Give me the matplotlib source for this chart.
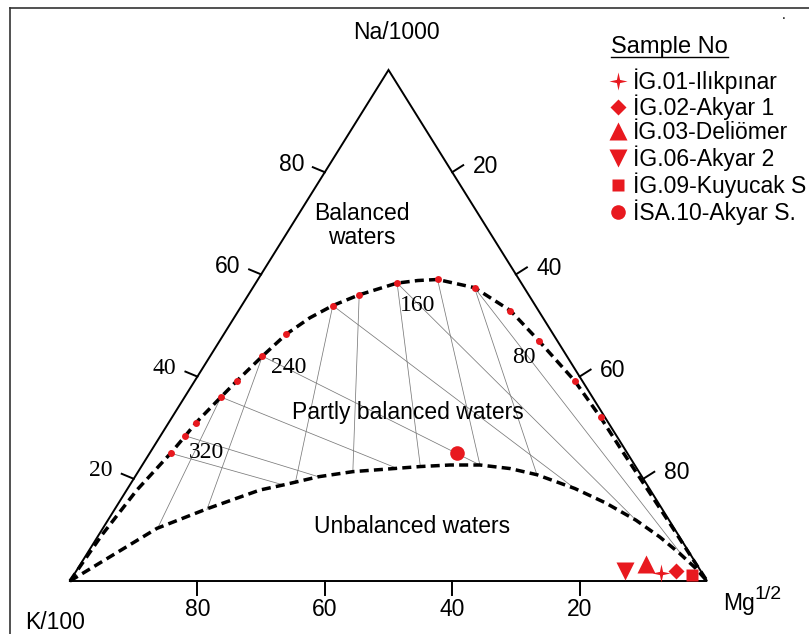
import numpy as np
import matplotlib.pyplot as plt
from matplotlib.lines import Line2D
from matplotlib.path import Path

plt.rcParams['font.family'] = ['Liberation Sans', 'DejaVu Sans']

# Giggenbach Na-K-Mg diagram. Values are % of (Na/1000 + K/100 + Mg^1/2), K = 100 - Na - Mg
# full equilibrium temperature points (20 C steps)
dot_na = [25.0, 28.4, 31.0, 36.0, 39.1, 44.0, 48.3, 53.9, 56.0, 58.3, 59.0, 57.4, 52.9, 47.0, 39.2, 32.0]
dot_mg = [3.3, 3.9, 4.3, 5.7, 6.6, 8.2, 9.8, 14.3, 17.4, 22.2, 28.2, 34.8, 42.7, 50.1, 59.6, 67.3]

# full equilibrium curve
feq_na = [0, 9.0, 17.8, 25.0, 28.4, 31.0, 36.0, 39.1, 44.0, 48.3, 51.5, 53.9, 56.0, 58.3, 58.8,
          59.0, 57.4, 52.9, 47.0, 39.2, 32.0, 25.6, 18.4, 11.2, 4.5, 0]
feq_mg = [0, 0.5, 1.6, 3.3, 3.9, 4.3, 5.7, 6.6, 8.2, 9.8, 11.9, 14.3, 17.4, 22.2, 25.2,
          28.2, 34.8, 42.7, 50.1, 59.6, 67.3, 73.8, 81.2, 88.6, 95.4, 100]

# partial equilibrium curve
peq_na = [0, 10.3, 14.1, 17.8, 18.8, 20.4, 21.4, 22.05, 22.4, 22.7, 22.7, 22.0, 20.8, 18.1,
          15.3, 11.9, 8.6, 5.4, 2.7, 0]
peq_mg = [0, 8.5, 14.4, 20.9, 24.1, 28.8, 33.7, 40.3, 43.8, 48.3, 53.0, 58.1, 62.9, 70.2,
          76.4, 82.9, 88.3, 93.0, 96.7, 100]

# Na-K isotherms (towards Mg corner): start dot index, end on partial equilibrium curve
nak_from = [0, 1, 3, 5, 7, 9, 11]
nak_to_na = [18.8, 20.4, 22.05, 22.7, 18.1, 11.9, 5.1]
nak_to_mg = [24.1, 28.8, 40.3, 53.0, 70.2, 82.9, 93.5]

# K-Mg isotherms (towards Na corner)
kmg_from = [3, 5, 7, 8, 9, 10, 11]
kmg_to_na = [10.2, 14.0, 19.1, 21.4, 22.4, 22.7, 20.8]
kmg_to_mg = [8.6, 14.5, 25.8, 33.7, 43.8, 53.0, 62.9]

temp_labels = ['320', '240', '160', '80']
temp_idx = [1, 5, 9, 13]
temp_off = [(15, -12), (19, -8), (15, -16), (-11, -12)]

# samples
sample_names = ['İG.01-Ilıkpınar', 'İG.02-Akyar 1', 'İG.03-Deliömer',
                'İG.06-Akyar 2', 'İG.09-Kuyucak S', 'İSA.10-Akyar S.']
sample_na = [1.5, 2.0, 3.3, 1.9, 1.2, 25.1]
sample_mg = [92.1, 94.2, 88.8, 86.2, 97.1, 48.2]

ticks = [20, 40, 60, 80]

RED = '#e8191f'
H = np.sqrt(3) / 2
SX, SY = 6.37, 5.9007   # pixels per data unit


def tern(na, mg):
    na = np.asarray(na, float)
    mg = np.asarray(mg, float)
    return mg + na / 2, na * H


fig = plt.figure(figsize=(8.09, 6.34), dpi=100)
ax = fig.add_axes([0, 0, 1, 1])
ax.set_xlim(-10.99, 116.01)
ax.set_ylim(-8.98, 98.46)
ax.axis('off')

# triangle
ax.plot([0, 100, 50, 0], [0, 0, 100 * H, 0], color='k', lw=1.4, solid_joinstyle='miter')

# isotherm tie lines
dx, dy = tern(dot_na, dot_mg)
ex, ey = tern(nak_to_na, nak_to_mg)
for i, j in enumerate(nak_from):
    ax.plot([dx[j], ex[i]], [dy[j], ey[i]], color='#7a7a7a', lw=0.55, zorder=2)
ex, ey = tern(kmg_to_na, kmg_to_mg)
for i, j in enumerate(kmg_from):
    ax.plot([dx[j], ex[i]], [dy[j], ey[i]], color='#7a7a7a', lw=0.55, zorder=2)

# equilibrium curves
fx, fy = tern(feq_na, feq_mg)
ax.plot(fx, fy, color='k', lw=2.5, ls=(0, (2.6, 1.5)), zorder=3)
px_, py_ = tern(peq_na, peq_mg)
ax.plot(px_, py_, color='k', lw=2.5, ls=(0, (2.6, 1.5)), zorder=3)
ax.plot(dx, dy, 'o', color=RED, ms=5, mec='none', zorder=4)

for lab, j, off in zip(temp_labels, temp_idx, temp_off):
    ax.annotate(lab, (dx[j], dy[j]), xytext=off, textcoords='offset points',
                ha='center', va='center', fontsize=17, family='Liberation Serif')

# ticks and tick labels
for v in ticks:
    # K axis (bottom)
    x0, y0 = 100 - v, 0
    ax.plot([x0, x0], [y0, y0 - 14 / SY], color='k', lw=1.4)
    ax.text(x0, y0 - 28 / SY, str(v), ha='center', va='center', fontsize=16.5)
    # Na axis (left)
    x0, y0 = tern(v, 0)
    ax.plot([x0, x0 - 12 / SX], [y0, y0 + 5 / SY], color='k', lw=1.4)
    if v <= 40:
        ax.text(x0 - 33 / SX, y0 + 8 / SY, str(v), ha='center', va='center', fontsize=17,
                family='Liberation Serif')
    else:
        ax.text(x0 - 33 / SX, y0 + 8 / SY, str(v), ha='center', va='center', fontsize=16.5)
    # Mg axis (right)
    x0, y0 = tern(100 - v, v)
    ax.plot([x0, x0 + 11 / SX], [y0, y0 + 7 / SY], color='k', lw=1.4)
    ax.text(x0 + 33 / SX, y0 + 6 / SY, str(v), ha='center', va='center', fontsize=16.5)

ax.text(51.3, 92.9, 'Na/1000', ha='center', va='center', fontsize=16.5)
ax.text(-2.4, -7.0, 'K/100', ha='center', va='center', fontsize=16.5)
ax.text(102.6, -3.8, 'Mg', ha='left', va='center', fontsize=16.5)
ax.text(109.6, -2.3, '1/2', ha='center', va='center', fontsize=14)

ax.text(45.8, 60.3, 'Balanced\nwaters', ha='center', va='center', fontsize=16.5, linespacing=1.05)
ax.text(53.1, 28.6, 'Partly balanced waters', ha='center', va='center', fontsize=16.5)
ax.text(53.7, 9.3, 'Unbalanced waters', ha='center', va='center', fontsize=16.5)

# samples
star4 = Path.unit_regular_star(4, 0.25)
markers = [star4, 'D', '^', 'v', 's', 'o']
sizes = [13, 8.5, 12.5, 12.5, 8.5, 10.5]
sx, sy = tern(sample_na, sample_mg)
handles = []
for k in range(len(sample_names)):
    h, = ax.plot(sx[k], sy[k], marker=markers[k], ms=sizes[k], color=RED, mec='none',
                 ls='none', zorder=5, label=sample_names[k])
    handles.append(h)

leg = ax.legend(handles=handles, loc='upper left',
                bbox_to_anchor=(610 / 809, 1 - 68 / 634), bbox_transform=fig.transFigure,
                frameon=False, fontsize=16.5, handlelength=0.7, markerscale=1.0,
                handletextpad=0.3, labelspacing=0.05, borderpad=0, borderaxespad=0)

# legend title, underlined
title = fig.text(611 / 809, 1 - 47 / 634, 'Sample No', ha='left', va='center', fontsize=17)

# frame lines and stray dot of the original
fig.add_artist(Line2D([10 / 809, 10 / 809], [0, 1 - 8 / 634], transform=fig.transFigure,
                      color='#333333', lw=1.2))
fig.add_artist(Line2D([10 / 809, 1], [1 - 8 / 634, 1 - 8 / 634], transform=fig.transFigure,
                      color='#333333', lw=1.2))
fig.text(784 / 809, 1 - 15 / 634, '.', ha='center', va='center', fontsize=10)

fig.canvas.draw()
bb = title.get_window_extent(fig.canvas.get_renderer())
W, Hh = fig.bbox.width, fig.bbox.height
fig.add_artist(Line2D([bb.x0 / W, bb.x1 / W], [(bb.y0 + 1) / Hh] * 2,
                      transform=fig.transFigure, color='k', lw=1.0))

fig.savefig('out.png', dpi=100)
